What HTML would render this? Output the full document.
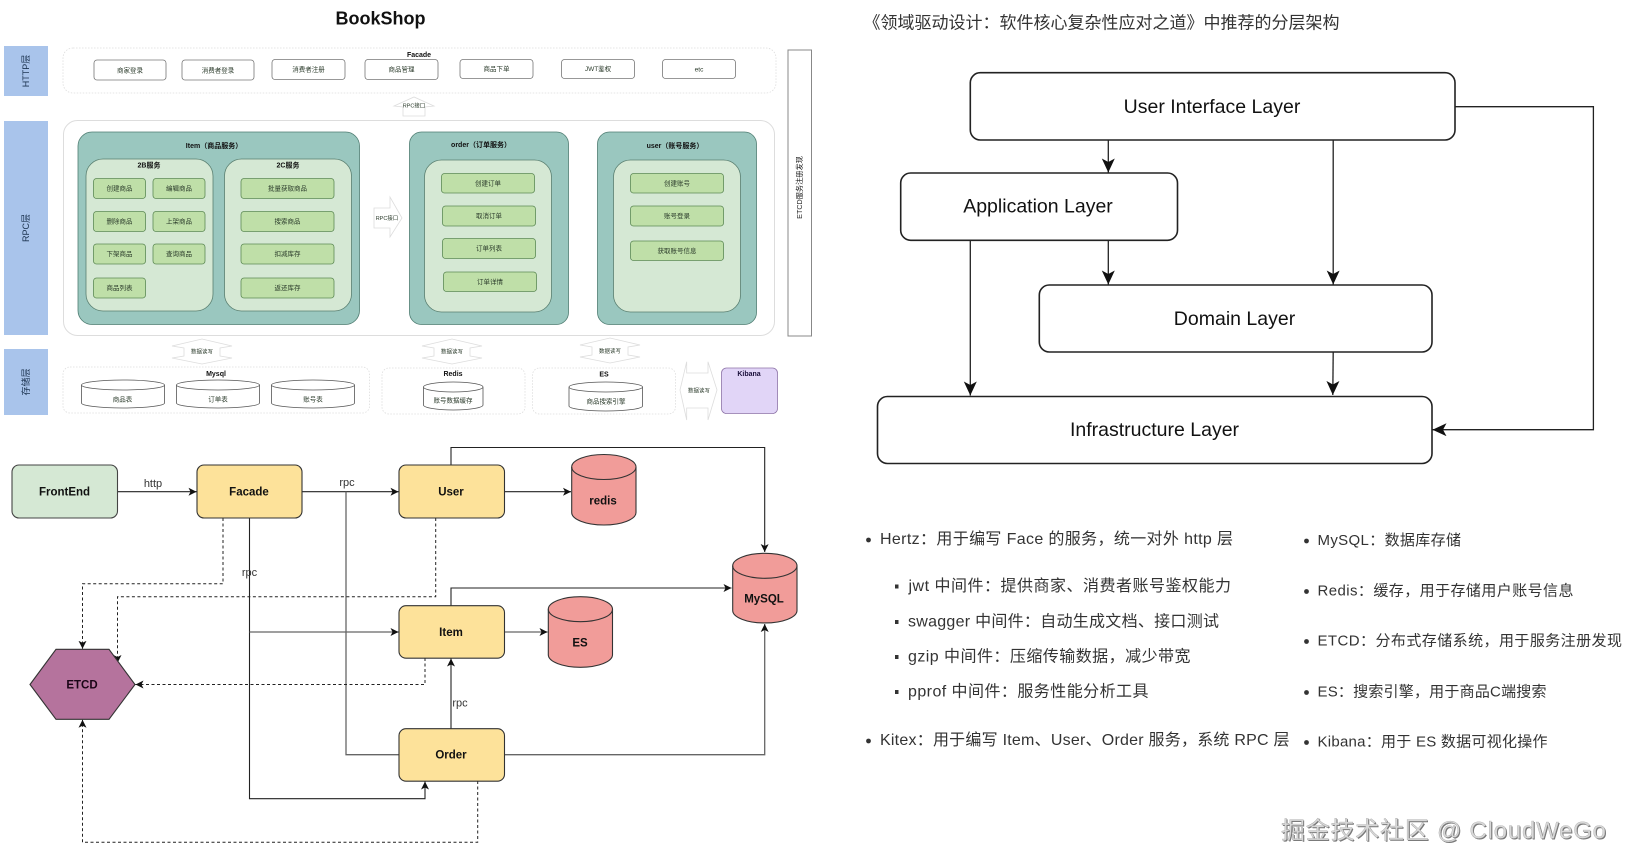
<!DOCTYPE html>
<html><head><meta charset="utf-8"><title>BookShop</title>
<style>
html,body{margin:0;padding:0;background:#fff;width:1628px;height:868px;overflow:hidden}
svg{display:block;font-family:"Liberation Sans","Noto Sans CJK SC",sans-serif}
text{dominant-baseline:central}
.m{text-anchor:middle}
.s{font-size:6.5px;fill:#2a3a2a;text-anchor:middle;transform:translateY(1px)}
.t{font-size:7px;font-weight:700;fill:#111;text-anchor:middle;transform:translateY(.6px)}
.b{font-size:11.5px;font-weight:700;fill:#111;text-anchor:middle;transform:translateY(1px)}
.l{font-size:11px;fill:#333;text-anchor:middle;transform:translateY(1px)}
.big{font-size:19.5px;fill:#111;text-anchor:middle;transform:translateY(1px)}
.li{font-size:16px;fill:#333;transform:translateY(.5px)}
.g{fill:#bfdfa8;stroke:#5d8a55;stroke-width:.8}
.w{fill:#fff;stroke:#777;stroke-width:.8}
.d{fill:#fff;stroke:#ddd;stroke-width:.8;stroke-dasharray:1.5 1.5}
.teal{fill:#9ac7bf;stroke:#4f7d72;stroke-width:.8}
.in{fill:#d5e8d4;stroke:#5a7f70;stroke-width:.8}
.ar{fill:#fff;stroke:#ddd;stroke-width:.8}
.c{fill:#fff;stroke:#555;stroke-width:.8}
.y{fill:#fde29a;stroke:#333;stroke-width:1.1}
.p{fill:#f19c99;stroke:#333;stroke-width:1.1}
.pa{fill:none;stroke:#333;stroke-width:1.1}
.ln{fill:none;stroke:#222;stroke-width:1.1}
.gy{fill:none;stroke:#666;stroke-width:1.3}
.da{fill:none;stroke:#222;stroke-width:1;stroke-dasharray:3 2.5}
.rl{fill:#fff;stroke:#222;stroke-width:1.6}
.rn{fill:none;stroke:#222;stroke-width:1.3}
</style></head><body>
<svg width="1628" height="868" viewBox="0 0 1628 868" xmlns="http://www.w3.org/2000/svg">
<defs>
<marker id="a" markerUnits="userSpaceOnUse" markerWidth="10" markerHeight="10" refX="8" refY="4" orient="auto"><path d="M0,0 L8,4 L0,8 L2,4 Z" fill="#111"/></marker>
<marker id="A" markerUnits="userSpaceOnUse" markerWidth="16" markerHeight="14" refX="14" refY="6.5" orient="auto"><path d="M0,0 L14,6.5 L0,13 L3.5,6.5 Z" fill="#111"/></marker>
</defs>

<!-- top left architecture -->
<text x="380.5" y="18.5" class="m" style="font-size:18px;font-weight:700;fill:#111">BookShop</text>

<rect x="4" y="46" width="44" height="50" fill="#a9c4eb"/>
<rect x="4" y="121" width="44" height="214" fill="#a9c4eb"/>
<rect x="4" y="349" width="44" height="66" fill="#a9c4eb"/>
<text transform="translate(26,71) rotate(-90)" class="m" style="font-size:9px;fill:#1c3350">HTTP层</text>
<text transform="translate(26,228) rotate(-90)" class="m" style="font-size:9px;fill:#1c3350">RPC层</text>
<text transform="translate(26,382) rotate(-90)" class="m" style="font-size:9px;fill:#1c3350">存储层</text>

<rect x="63" y="48" width="713" height="45" rx="10" class="d"/>
<text x="419" y="55" class="t">Facade</text>
<rect x="94" y="60" width="72" height="20" rx="3" class="w"/><text x="130" y="70" class="s">商家登录</text>
<rect x="182" y="60" width="72" height="20" rx="3" class="w"/><text x="218" y="70" class="s">消费者登录</text>
<rect x="272" y="59.5" width="73" height="20" rx="3" class="w"/><text x="308.5" y="69" class="s">消费者注册</text>
<rect x="365" y="59.5" width="73" height="20" rx="3" class="w"/><text x="401.5" y="69" class="s">商品管理</text>
<rect x="460" y="59.5" width="73" height="19" rx="3" class="w"/><text x="496.5" y="68.5" class="s">商品下单</text>
<rect x="561.5" y="59.5" width="73" height="19" rx="3" class="w"/><text x="598" y="68.5" class="s">JWT鉴权</text>
<rect x="662.5" y="59.5" width="73" height="19" rx="3" class="w"/><text x="699" y="69" class="s">etc</text>

<path d="M394,106 L414,97 L434,106 L425,107 V116 H403 V107 Z" class="ar"/>
<text x="414" y="105.5" class="s" style="font-size:5.5px">RPC接口</text>

<rect x="63.5" y="120.5" width="711" height="215" rx="14" fill="#fff" stroke="#ddd" stroke-width="1"/>

<rect x="78" y="132" width="281.5" height="192.5" rx="14" class="teal"/>
<text x="214" y="146" class="t">Item（商品服务）</text>
<rect x="86" y="159" width="127" height="152" rx="17" class="in"/>
<text x="149" y="165.5" class="t">2B服务</text>
<rect x="224.5" y="159" width="127" height="152" rx="17" class="in"/>
<text x="288" y="165.5" class="t">2C服务</text>

<rect x="93.5" y="178.5" width="52" height="20" rx="3" class="g"/><text x="119.5" y="188" class="s">创建商品</text>
<rect x="153" y="178.5" width="52" height="20" rx="3" class="g"/><text x="179" y="188" class="s">编辑商品</text>
<rect x="93.5" y="211.5" width="52" height="20" rx="3" class="g"/><text x="119.5" y="221" class="s">删除商品</text>
<rect x="153" y="211.5" width="52" height="20" rx="3" class="g"/><text x="179" y="221" class="s">上架商品</text>
<rect x="93.5" y="244" width="52" height="20" rx="3" class="g"/><text x="119.5" y="253.5" class="s">下架商品</text>
<rect x="153" y="244" width="52" height="20" rx="3" class="g"/><text x="179" y="253.5" class="s">查询商品</text>
<rect x="93.5" y="278" width="52" height="20" rx="3" class="g"/><text x="119.5" y="287.5" class="s">商品列表</text>

<rect x="241" y="178.5" width="93" height="20" rx="3" class="g"/><text x="287.5" y="188" class="s">批量获取商品</text>
<rect x="241" y="211.5" width="93" height="20" rx="3" class="g"/><text x="287.5" y="221" class="s">搜索商品</text>
<rect x="241" y="244" width="93" height="20" rx="3" class="g"/><text x="287.5" y="253.5" class="s">扣减库存</text>
<rect x="241" y="278" width="93" height="20" rx="3" class="g"/><text x="287.5" y="287.5" class="s">返还库存</text>

<path d="M374,208 H390 V197 L402,218 L390,237 V228 H374 Z" class="ar"/>
<text x="387" y="218" class="s" style="font-size:5.5px">RPC接口</text>

<rect x="409.5" y="132" width="159" height="192.5" rx="12" class="teal"/>
<text x="481" y="145" class="t">order（订单服务）</text>
<rect x="424.5" y="160" width="127" height="152" rx="17" class="in"/>
<rect x="441.5" y="173.5" width="93" height="19.5" rx="3" class="g"/><text x="488" y="183" class="s">创建订单</text>
<rect x="442.5" y="206" width="93" height="20" rx="3" class="g"/><text x="489" y="215.5" class="s">取消订单</text>
<rect x="442.5" y="238.5" width="93" height="20" rx="3" class="g"/><text x="489" y="248" class="s">订单列表</text>
<rect x="443.5" y="272" width="93" height="19.5" rx="3" class="g"/><text x="490" y="281.5" class="s">订单详情</text>

<rect x="597.5" y="132" width="159" height="192.5" rx="12" class="teal"/>
<text x="675" y="146" class="t">user（账号服务）</text>
<rect x="613.5" y="160" width="127" height="152" rx="17" class="in"/>
<rect x="630.5" y="173.5" width="93" height="19.5" rx="3" class="g"/><text x="677" y="183" class="s">创建账号</text>
<rect x="630.5" y="206" width="93" height="20" rx="3" class="g"/><text x="677" y="215.5" class="s">账号登录</text>
<rect x="630.5" y="241" width="93" height="19.5" rx="3" class="g"/><text x="677" y="250.5" class="s">获取账号信息</text>

<rect x="788" y="50" width="23.5" height="286" fill="#fff" stroke="#888" stroke-width="1"/>
<text transform="translate(799.5,187.5) rotate(-90)" class="m" style="font-size:7.2px;fill:#222">ETCD服务注册发现</text>

<path d="M172,346 L202,339 L232,346 L220,348 V356 L232,358 L202,364 L172,358 L184,356 V348 Z" class="ar"/>
<text x="202" y="351.500" class="s" style="font-size:5.5px">数据读写</text>
<path d="M422,346 L452,339 L482,346 L470,348 V356 L482,358 L452,364 L422,358 L434,356 V348 Z" class="ar"/>
<text x="452" y="351.500" class="s" style="font-size:5.5px">数据读写</text>
<path d="M580,345 L610,338 L640,345 L628,347 V355 L640,357 L610,363 L580,357 L592,355 V347 Z" class="ar"/>
<text x="610" y="351" class="s" style="font-size:5.5px">数据读写</text>

<rect x="63" y="367" width="306.5" height="46" rx="7" class="d"/>
<rect x="382" y="368" width="143" height="46" rx="7" class="d"/>
<rect x="532.5" y="368" width="143" height="46" rx="7" class="d"/>
<text x="216" y="374" class="t">Mysql</text>
<text x="453" y="374" class="t">Redis</text>
<text x="604" y="374.5" class="t">ES</text>

<path d="M81.5,385 A41.5,5 0 0 1 164.5,385 V403 A41.5,5 0 0 1 81.5,403 Z M81.5,385 A41.5,5 0 0 0 164.5,385" class="c"/><text x="122.5" y="399" class="s">商品表</text>
<path d="M176.5,385 A41.5,5 0 0 1 259.5,385 V403 A41.5,5 0 0 1 176.5,403 Z M176.5,385 A41.5,5 0 0 0 259.5,385" class="c"/><text x="218" y="399" class="s">订单表</text>
<path d="M271.5,385 A41.5,5 0 0 1 354.5,385 V403 A41.5,5 0 0 1 271.5,403 Z M271.5,385 A41.5,5 0 0 0 354.5,385" class="c"/><text x="313" y="399" class="s">账号表</text>
<path d="M423.5,387 A29.75,5 0 0 1 483,387 V405 A29.75,5 0 0 1 423.5,405 Z M423.5,387 A29.75,5 0 0 0 483,387" class="c"/><text x="453" y="400" class="s">账号数据缓存</text>
<path d="M569,387 A36.75,5 0 0 1 642.5,387 V406 A36.75,5 0 0 1 569,406 Z M569,387 A36.75,5 0 0 0 642.5,387" class="c"/><text x="606" y="401" class="s">商品搜索引擎</text>

<path d="M680,390 L686.7,361.7 V373 H708 V361.7 L717,390 L708,420 V408 H686.7 V420 Z" class="ar"/>
<text x="699" y="390.500" class="s" style="font-size:5.5px">数据读写</text>
<rect x="721.5" y="368" width="56" height="45.5" rx="5" fill="#e1d5f7" stroke="#8e74a8" stroke-width=".8"/>
<text x="749" y="374" class="t" style="fill:#1a0f3a">Kibana</text>

<!-- flow diagram -->
<path d="M451,465 V447.5 H764.7 V552" class="ln" marker-end="url(#a)"/>
<path d="M451,606 V588 H731.5" class="ln" marker-end="url(#a)"/>
<path d="M504.5,491.7 H571" class="ln" marker-end="url(#a)"/>
<path d="M504.5,632 H547.5" class="gy" marker-end="url(#a)"/>
<path d="M451,728.7 V658.5" class="ln" marker-end="url(#a)"/>
<path d="M504.5,754.7 H764.7 V624" class="gy" marker-end="url(#a)"/>
<path d="M117.5,491.7 H196.5" class="ln" marker-end="url(#a)"/>
<path d="M302,491.7 H398.5" class="ln" marker-end="url(#a)"/>
<path d="M249.5,518 V798.7 H425 V781.5" class="ln" marker-end="url(#a)"/>
<path d="M249.5,632 H398.5" class="gy" marker-end="url(#a)"/>
<path d="M346,491.7 V754.7 H399" class="gy"/>
<path d="M223,518 V583.7 H82.5 V648.8" class="da" marker-end="url(#a)"/>
<path d="M435.7,518 V596.7 H117.5 V663" class="da" marker-end="url(#a)"/>
<path d="M425,658 V684.5 H135.5" class="da" marker-end="url(#a)"/>
<path d="M477.7,781 V842.3 H82.5 V719.8" class="da" marker-end="url(#a)"/>

<rect x="12" y="465" width="105.5" height="53" rx="7" fill="#d5e8d4" stroke="#444" stroke-width="1.1"/>
<text x="64.5" y="491.5" class="b">FrontEnd</text>
<rect x="197" y="465" width="105" height="53" rx="7" class="y"/><text x="249" y="491.5" class="b">Facade</text>
<rect x="399" y="465" width="105.5" height="53" rx="7" class="y"/><text x="451" y="491.5" class="b">User</text>
<rect x="399" y="605.7" width="105.5" height="52.5" rx="7" class="y"/><text x="451" y="632" class="b">Item</text>
<rect x="399" y="728.7" width="105.5" height="52.5" rx="7" class="y"/><text x="451" y="754.5" class="b">Order</text>
<path d="M30,684.5 L56,649.3 H109 L135,684.5 L109,719.3 H56 Z" fill="#b5739d" stroke="#333" stroke-width="1.1"/>
<text x="82" y="684.5" class="b" style="fill:#1a0516">ETCD</text>

<path d="M571.7,467 A32.15,12.5 0 0 1 636,467 V512.5 A32.15,12.5 0 0 1 571.7,512.5 Z" class="p"/>
<path d="M571.7,467 A32.15,12.5 0 0 0 636,467" class="pa"/>
<text x="603" y="500.5" class="b">redis</text>
<path d="M548.3,609.2 A32.1,12.5 0 0 1 612.5,609.2 V654.8 A32.1,12.5 0 0 1 548.3,654.8 Z" class="p"/>
<path d="M548.3,609.2 A32.1,12.5 0 0 0 612.5,609.2" class="pa"/>
<text x="580" y="642.5" class="b">ES</text>
<path d="M732.7,565.8 A32.15,12.5 0 0 1 797,565.8 V610.5 A32.15,12.5 0 0 1 732.7,610.5 Z" class="p"/>
<path d="M732.7,565.8 A32.15,12.5 0 0 0 797,565.8" class="pa"/>
<text x="764" y="598.5" class="b">MySQL</text>

<text x="153" y="483" class="l">http</text>
<text x="347" y="482" class="l">rpc</text>
<text x="249.5" y="572" class="l">rpc</text>
<text x="460" y="702.5" class="l">rpc</text>

<!-- right layered diagram -->
<text x="863.5" y="23" textLength="476" lengthAdjust="spacing" style="font-size:17px;fill:#333">《领域驱动设计：软件核心复杂性应对之道》中推荐的分层架构</text>

<path d="M1108.3,140 V172.5" class="rn" marker-end="url(#A)"/>
<path d="M1108.3,240 V284.5" class="rn" marker-end="url(#A)"/>
<path d="M1333.2,140 V284.5" class="rn" marker-end="url(#A)"/>
<path d="M970.3,240 V395.5" class="rn" marker-end="url(#A)"/>
<path d="M1333.2,352 L1332.8,395" class="rn" marker-end="url(#A)"/>
<path d="M1455,106.7 H1593.4 V429.7 H1432.5" class="rn" marker-end="url(#A)"/>

<rect x="970.3" y="72.7" width="484.7" height="67.3" rx="10" class="rl"/>
<text x="1212" y="106.2" class="big">User Interface Layer</text>
<rect x="900.7" y="173" width="276.8" height="67.3" rx="10" class="rl"/>
<text x="1038" y="205.5" class="big">Application Layer</text>
<rect x="1039.3" y="285" width="392.7" height="67" rx="10" class="rl"/>
<text x="1234.5" y="318" class="big">Domain Layer</text>
<rect x="877.5" y="396.5" width="554.5" height="67" rx="10" class="rl"/>
<text x="1154.5" y="429" class="big">Infrastructure Layer</text>

<!-- lists -->
<circle cx="868.5" cy="540" r="2.4" fill="#333"/>
<text x="880" y="539" class="li" textLength="353" lengthAdjust="spacing">Hertz：用于编写 Face 的服务，统一对外 http 层</text>
<rect x="895" y="584.5" width="3.5" height="4" fill="#333"/>
<text x="908.5" y="586" class="li" textLength="322.5" lengthAdjust="spacing">jwt 中间件：提供商家、消费者账号鉴权能力</text>
<rect x="895" y="620" width="3.5" height="4" fill="#333"/>
<text x="908" y="621.7" class="li" textLength="311" lengthAdjust="spacing">swagger 中间件：自动生成文档、接口测试</text>
<rect x="895" y="655" width="3.5" height="4" fill="#333"/>
<text x="908" y="656.7" class="li" textLength="282.5" lengthAdjust="spacing">gzip 中间件：压缩传输数据，减少带宽</text>
<rect x="895" y="690" width="3.5" height="4" fill="#333"/>
<text x="908" y="691.7" class="li" textLength="240.5" lengthAdjust="spacing">pprof 中间件：服务性能分析工具</text>
<circle cx="868.5" cy="741" r="2.4" fill="#333"/>
<text x="880" y="740" class="li" textLength="409.5" lengthAdjust="spacing">Kitex：用于编写 Item、User、Order 服务，系统 RPC 层</text>

<circle cx="1306.5" cy="541" r="2.4" fill="#333"/>
<text x="1317.5" y="540" class="li" textLength="143.5" lengthAdjust="spacing" style="font-size:15px">MySQL：数据库存储</text>
<circle cx="1306.5" cy="591.5" r="2.4" fill="#333"/>
<text x="1317.5" y="590.7" class="li" textLength="256" lengthAdjust="spacing" style="font-size:15px">Redis：缓存，用于存储用户账号信息</text>
<circle cx="1306.5" cy="641.500" r="2.4" fill="#333"/>
<text x="1317.5" y="640.7" class="li" textLength="304.5" lengthAdjust="spacing" style="font-size:15px">ETCD：分布式存储系统，用于服务注册发现</text>
<circle cx="1306.5" cy="692.5" r="2.4" fill="#333"/>
<text x="1317.5" y="691.7" class="li" textLength="229" lengthAdjust="spacing" style="font-size:15px">ES：搜索引擎，用于商品C端搜索</text>
<circle cx="1306.5" cy="742.5" r="2.4" fill="#333"/>
<text x="1317.5" y="741.7" class="li" textLength="230" lengthAdjust="spacing" style="font-size:15px">Kibana：用于 ES 数据可视化操作</text>

<!-- watermark -->
<text x="1282" y="832" textLength="325" lengthAdjust="spacing" style="font-size:24px;fill:#777">掘金技术社区 @ CloudWeGo</text>
<text x="1281" y="831" textLength="325" lengthAdjust="spacing" style="font-size:24px;fill:#d8d8d8;stroke:#999;stroke-width:.3">掘金技术社区 @ CloudWeGo</text>
</svg>
</body></html>
